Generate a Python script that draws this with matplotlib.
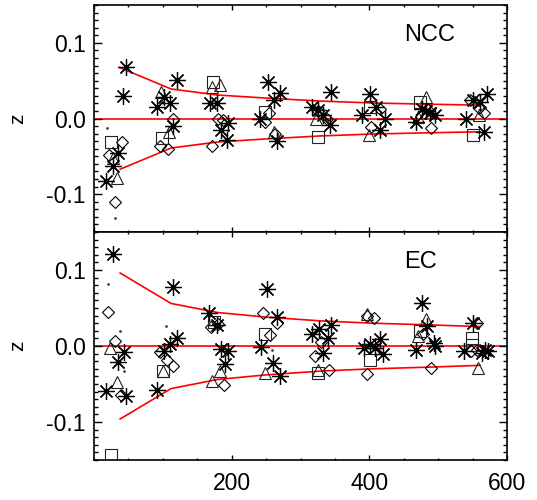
import matplotlib
matplotlib.use("Agg")
import matplotlib.pyplot as plt
from matplotlib.ticker import MultipleLocator

plt.rcParams['font.family'] = ['Liberation Sans', 'DejaVu Sans']

# ---- NCC panel data ----
ncc_star_x = [46, 42, 35, 28, 17, 102, 92, 111, 120, 115, 168, 178, 195, 185, 193,
              253, 270, 261, 241, 266, 316, 345, 326, 333, 343, 390, 401, 410, 423, 416,
              468, 476, 482, 488, 496, 541, 551, 561, 571, 566]
ncc_star_y = [0.068, 0.030, -0.046, -0.063, -0.082, 0.028, 0.015, 0.020, 0.051, -0.010,
              0.020, 0.020, -0.006, -0.015, -0.029, 0.048, 0.034, 0.025, 0.000, -0.030,
              0.015, 0.035, 0.011, 0.004, -0.009, 0.004, 0.033, 0.015, 0.000, -0.015,
              -0.004, 0.013, 0.010, 0.007, 0.004, 0.000, 0.024, 0.022, 0.033, -0.018]
ncc_diam_x = [40, 22, 31, 115, 96, 107, 180, 188, 171, 254, 248, 263, 326, 338,
              403, 416, 490, 484, 546, 566, 560]
ncc_diam_y = [-0.031, -0.048, -0.110, 0.000, -0.037, -0.040, 0.000, -0.002, -0.037,
              0.007, -0.004, -0.020, 0.010, 0.000, -0.011, 0.012, -0.013, 0.012,
              0.024, 0.007, 0.014]
ncc_sq_x = [25, 99, 173, 249, 325, 401, 474, 550]
ncc_sq_y = [-0.031, -0.026, 0.048, 0.009, -0.024, 0.015, 0.022, -0.022]
ncc_tri_x = [34, 28, 97, 109, 183, 172, 261, 322, 399, 483, 470, 560]
ncc_tri_y = [-0.079, -0.052, 0.035, -0.018, 0.044, 0.042, -0.018, 0.000, -0.022,
             0.028, 0.002, 0.005]
ncc_dot_x = [19, 30]
ncc_dot_y = [-0.013, -0.132]
ncc_env_x = [38, 112, 180, 250, 330, 405, 480, 561]
ncc_env_y = [0.067, 0.039, 0.031, 0.027, 0.023, 0.0205, 0.019, 0.0176]

# ---- EC panel data ----
ec_star_x = [27, 43, 35, 17, 46, 115, 120, 110, 102, 92, 167, 178, 184, 194, 191,
             252, 266, 242, 260, 270, 316, 327, 345, 340, 333, 392, 401, 415, 408, 420,
             477, 484, 494, 496, 468, 550, 537, 563, 568, 573]
ec_star_y = [0.121, -0.0075, -0.021, -0.059, -0.066, 0.077, 0.010, 0.002, -0.007, -0.058,
             0.043, 0.028, -0.004, -0.006, -0.024, 0.075, 0.0385, -0.001, -0.022, -0.040,
             0.016, 0.022, 0.027, 0.011, -0.009, -0.002, 0.002, 0.009, -0.002, -0.011,
             0.056, 0.026, 0.0045, 0.000, -0.005, 0.030, -0.007, -0.009, -0.005, -0.006]
ec_diam_x = [21, 31, 39, 96, 106, 115, 170, 180, 189, 246, 266, 255, 321, 341, 330,
             396, 407, 396, 489, 478, 557, 548, 556]
ec_diam_y = [0.045, 0.006, -0.065, -0.0075, -0.018, -0.026, 0.025, 0.029, -0.051,
             0.043, 0.030, 0.015, -0.013, -0.031, 0.005, 0.039, 0.0375, -0.037,
             -0.029, 0.016, 0.030, -0.007, -0.005]
ec_sq_x = [25, 100, 175, 249, 325, 401, 474, 549, 549]
ec_sq_y = [-0.143, -0.033, 0.032, 0.016, -0.035, -0.018, 0.020, 0.010, 0.001]
ec_tri_x = [23, 33, 100, 183, 172, 248, 325, 396, 483, 471, 558]
ec_tri_y = [-0.002, -0.048, -0.033, -0.033, -0.046, -0.035, -0.032, 0.042, 0.035,
            0.013, -0.029]
ec_dot_x = [20, 38, 44, 104, 258]
ec_dot_y = [0.081, 0.020, -0.033, 0.026, -0.005]
ec_env_x = [38, 112, 180, 250, 330, 405, 480, 561]
ec_env_y = [0.096, 0.056, 0.044, 0.038, 0.033, 0.030, 0.028, 0.0255]

panels = [
    ("NCC", ncc_star_x, ncc_star_y, ncc_diam_x, ncc_diam_y, ncc_sq_x, ncc_sq_y,
     ncc_tri_x, ncc_tri_y, ncc_dot_x, ncc_dot_y, ncc_env_x, ncc_env_y),
    ("EC", ec_star_x, ec_star_y, ec_diam_x, ec_diam_y, ec_sq_x, ec_sq_y,
     ec_tri_x, ec_tri_y, ec_dot_x, ec_dot_y, ec_env_x, ec_env_y),
]

fig = plt.figure(figsize=(5.37, 5.0), dpi=100)
W, H = 537.0, 500.0
left, right = 94 / W, 507 / W
ax_top = fig.add_axes([left, 1 - 232 / H, right - left, 227 / H])
ax_bot = fig.add_axes([left, 1 - 460 / H, right - left, 228 / H])

for ax, p in zip([ax_top, ax_bot], panels):
    (name, sx, sy, dx, dy, qx, qy, tx, ty, ox, oy, ex, ey) = p
    ax.axhline(0.0, color='red', lw=1.2, zorder=1)
    ax.plot(ex, ey, color='red', lw=1.2, zorder=1)
    ax.plot(ex, [-v for v in ey], color='red', lw=1.2, zorder=1)
    ax.plot(dx, dy, ls='none', marker='D', ms=6.2, mfc='none', mec='black', mew=0.8)
    ax.plot(qx, qy, ls='none', marker='s', ms=8.8, mfc='none', mec='#222222', mew=0.8)
    ax.plot(tx, ty, ls='none', marker='^', ms=9.2, mfc='none', mec='#222222', mew=0.8)
    ax.plot(ox, oy, ls='none', marker='o', ms=1.0, color='#444444')
    ax.plot(sx, sy, ls='none', marker=(8, 2, 0), ms=12, mec='black', mew=0.9)

    ax.set_xlim(0, 600)
    ax.set_ylim(-0.15, 0.15)
    ax.xaxis.set_major_locator(MultipleLocator(200))
    ax.xaxis.set_minor_locator(MultipleLocator(50))
    ax.yaxis.set_major_locator(MultipleLocator(0.1))
    ax.yaxis.set_minor_locator(MultipleLocator(0.01))
    ax.tick_params(axis='both', which='both', direction='in', top=True, right=True,
                   labelsize=16.5, width=1.0, colors='black')
    ax.tick_params(axis='x', which='major', length=3.3, pad=9)
    ax.tick_params(axis='x', which='minor', length=1.7)
    ax.tick_params(axis='y', which='major', length=5.8, pad=6)
    ax.tick_params(axis='y', which='minor', length=2.9)
    ax.set_yticks([-0.1, 0.0, 0.1])
    ax.set_yticklabels(['-0.1', '0.0', '0.1'])
    ax.set_ylabel('z', fontsize=15, labelpad=14)
    for s in ax.spines.values():
        s.set_linewidth(1.2)
    ax.text(0.75, 0.87, name, transform=ax.transAxes, fontsize=17,
            ha='left', va='center')

ax_top.tick_params(axis='x', labelbottom=False)
ax_bot.set_xticks([200, 400, 600])
ax_bot.set_xticklabels(['200', '400', '600'])

fig.savefig('out.png', dpi=100)
